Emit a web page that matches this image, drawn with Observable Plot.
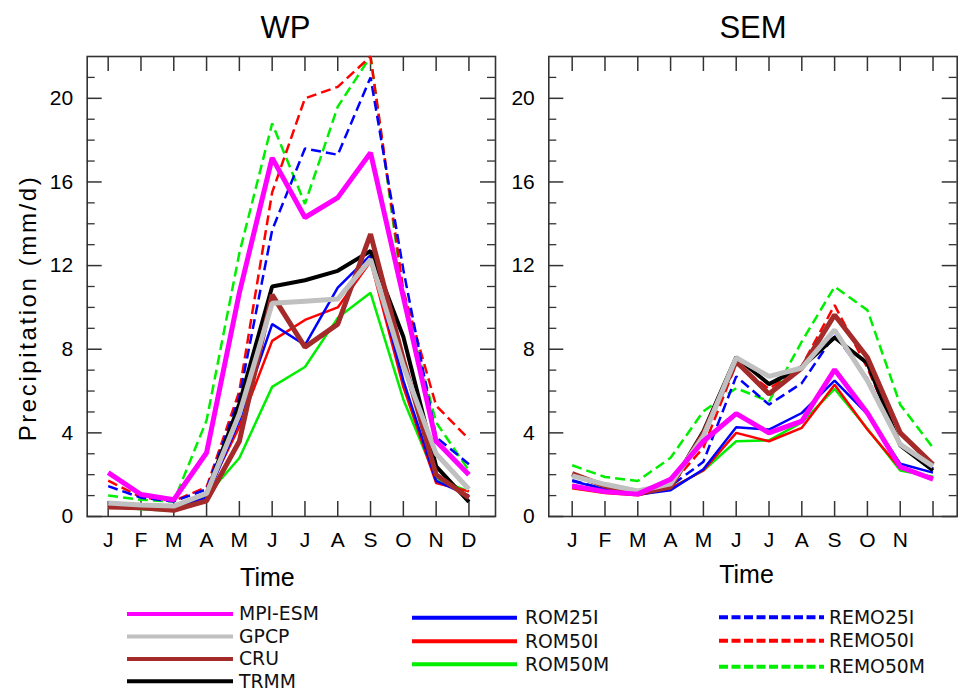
<!DOCTYPE html>
<html><head><meta charset="utf-8">
<script src="https://cdn.jsdelivr.net/npm/d3@7"></script>
<script src="https://cdn.jsdelivr.net/npm/@observablehq/plot@0.6"></script>
<style>
body{margin:0;background:#fff;}
#wrap{position:relative;width:966px;height:693px;overflow:hidden;background:#fff;font-family:"Liberation Sans",Arial,sans-serif;}
#wrap > svg{position:absolute;}
</style></head><body><div id="wrap"></div>
<script>
// ---------- data ----------
const months = [1,2,3,4,5,6,7,8,9,10,11,12];
const monthLabelsWP  = ["J","F","M","A","M","J","J","A","S","O","N","D"];
const monthLabelsSEM = ["J","F","M","A","M","J","J","A","S","O","N",""];
const yMajorTicks = [0,4,8,12,16,20];
const yMinorTicks = [1,2,3,5,6,7,9,10,11,13,14,15,17,18,19,21];

const seriesNames  = ["MPI-ESM","GPCP","CRU","TRMM","ROM25I","ROM50I","ROM50M","REMO25I","REMO50I","REMO50M"];
const seriesColors = ["#ff00ff","#c0c0c0","#a52a2a","#000000","#0000ff","#ff0000","#00ee00","#0000ff","#ff0000","#00ee00"];
const seriesDashed = [false,false,false,false,false,false,false,true,true,true];
const seriesWidths = [5,5,5,4,2.5,2.5,2.5,2.5,2.5,2.5];

// WP region (mm/d)
const wpMPI     = [2.1, 1.05, 0.8, 3.05, 10.7, 17.15, 14.3, 15.25, 17.4, 10.5, 3.6, 2.0];
const wpGPCP    = [0.65, 0.55, 0.5, 1.1, 4.9, 10.2, 10.3, 10.4, 12.3, 7.2, 3.0, 1.3];
const wpCRU     = [0.45, 0.42, 0.3, 0.75, 3.6, 10.6, 8.1, 9.2, 13.5, 7.5, 2.0, 0.9];
const wpTRMM    = [0.55, 0.5, 0.45, 1.1, 5.4, 11.0, 11.3, 11.75, 12.7, 8.6, 2.4, 0.7];
const wpROM25I  = [0.65, 0.5, 0.4, 0.9, 4.6, 9.2, 8.2, 10.95, 12.5, 6.5, 1.7, 1.0];
const wpROM50I  = [0.5, 0.45, 0.4, 1.1, 4.3, 8.4, 9.4, 10.0, 12.2, 6.2, 1.6, 1.2];
const wpROM50M  = [0.5, 0.35, 0.28, 1.0, 2.8, 6.2, 7.15, 9.5, 10.7, 5.6, 1.8, 1.2];
const wpREMO25I = [1.45, 0.9, 0.72, 1.3, 5.7, 13.7, 17.6, 17.3, 21.0, 11.8, 3.8, 2.5];
const wpREMO50I = [1.72, 0.92, 0.75, 1.4, 6.0, 15.5, 20.0, 20.55, 22.0, 10.8, 5.3, 3.7];
const wpREMO50M = [1.0, 0.8, 0.72, 4.6, 12.6, 18.8, 14.95, 19.6, 22.0, 10.5, 4.5, 2.2];

// SEM region (mm/d)
const semMPI     = [1.46, 1.19, 1.07, 1.78, 3.6, 4.92, 4.0, 4.56, 7.02, 4.95, 2.37, 1.78];
const semGPCP    = [1.94, 1.54, 1.22, 1.56, 3.84, 7.6, 6.7, 7.1, 8.92, 6.5, 3.45, 2.4];
const semCRU     = [2.05, 1.45, 1.1, 1.41, 3.98, 7.41, 5.86, 7.1, 9.64, 7.6, 4.0, 2.49];
const semTRMM    = [2.0, 1.5, 1.1, 1.45, 4.08, 7.62, 6.33, 7.15, 8.56, 7.33, 3.4, 2.2];
const semROM25I  = [1.7, 1.3, 1.05, 1.26, 2.26, 4.27, 4.16, 4.95, 6.5, 4.9, 2.52, 2.1];
const semROM50I  = [1.35, 1.12, 1.02, 1.35, 2.2, 4.0, 3.6, 4.24, 6.3, 4.16, 2.3, 1.85];
const semROM50M  = [1.4, 1.15, 1.05, 1.35, 2.2, 3.6, 3.64, 4.5, 6.1, 4.2, 2.2, 1.9];
const semREMO25I = [1.73, 1.3, 1.05, 1.45, 2.62, 6.7, 5.35, 6.38, 8.7, 6.6, 3.5, 2.3];
const semREMO50I = [1.5, 1.2, 1.05, 1.5, 3.29, 7.3, 6.1, 7.2, 10.11, 7.1, 3.5, 2.3];
const semREMO50M = [2.45, 1.89, 1.7, 2.81, 5.03, 6.14, 5.5, 8.37, 10.99, 9.87, 5.35, 3.29];

const wpSeries  = [wpMPI, wpGPCP, wpCRU, wpTRMM, wpROM25I, wpROM50I, wpROM50M, wpREMO25I, wpREMO50I, wpREMO50M];
const semSeries = [semMPI, semGPCP, semCRU, semTRMM, semROM25I, semROM50I, semROM50M, semREMO25I, semREMO50I, semREMO50M];

// drawing order (back to front)
const drawOrder = [9,8,7,6,5,4,3,2,1,0];

const wrap = document.getElementById("wrap");
const axisColor = "#333";

function panel(opts) {
  const {series, labels, title, left, width, mL, mR, xDomain, titleDx, timeDx, timeDy, yLabel} = opts;
  const height = 600, mT = 56, mB = 84;
  const fw = width - mL - mR, fh = height - mT - mB;
  const marks = [
    Plot.frame({stroke: axisColor, strokeWidth: 1.6}),
    // inward y ticks, left and right
    Plot.ruleY(yMajorTicks, {y: d => d, insetRight: fw - 15, stroke: axisColor, strokeWidth: 1.5}),
    Plot.ruleY(yMajorTicks, {y: d => d, insetLeft: fw - 15, stroke: axisColor, strokeWidth: 1.5}),
    Plot.ruleY(yMinorTicks, {y: d => d, insetRight: fw - 8, stroke: axisColor, strokeWidth: 1.3}),
    Plot.ruleY(yMinorTicks, {y: d => d, insetLeft: fw - 8, stroke: axisColor, strokeWidth: 1.3}),
    // inward x ticks, bottom and top
    Plot.ruleX(months, {x: d => d, insetTop: fh - 15, stroke: axisColor, strokeWidth: 1.5}),
    Plot.ruleX(months, {x: d => d, insetBottom: fh - 15, stroke: axisColor, strokeWidth: 1.5}),
    Plot.axisY({ticks: yMajorTicks, tickSize: 0, tickPadding: 14, fontSize: 21, label: null}),
    Plot.axisX({ticks: months, tickFormat: d => labels[d - 1], tickSize: 0, tickPadding: 16, fontSize: 21, label: null})
  ];
  for (const i of drawOrder) {
    const rows = months.map((m, k) => ({month: m, value: series[i][k]}));
    marks.push(Plot.line(rows, {
      x: "month", y: "value",
      stroke: seriesColors[i], strokeWidth: seriesWidths[i],
      strokeDasharray: seriesDashed[i] ? "10,5" : null,
      strokeLinejoin: "miter", strokeLinecap: "butt"
    }));
  }
  marks.push(Plot.text([title], {frameAnchor: "top", text: d => d, textAnchor: "middle", lineAnchor: "middle",
    dx: titleDx, dy: -28.5, fontSize: 31}));
  marks.push(Plot.text(["Time"], {frameAnchor: "bottom", text: d => d, textAnchor: "middle", lineAnchor: "middle",
    dx: timeDx, dy: timeDy, fontSize: 25}));
  if (yLabel) {
    marks.push(Plot.text([yLabel], {frameAnchor: "left", text: d => d, textAnchor: "middle", lineAnchor: "middle",
      rotate: -90, dx: 28 - mL, dy: 21.5, fontSize: 24}));
  }
  const svg = Plot.plot({
    width, height,
    marginLeft: mL, marginRight: mR, marginTop: mT, marginBottom: mB,
    x: {domain: xDomain},
    y: {domain: [0, 22]},
    style: {fontFamily: "'Liberation Sans', Arial, sans-serif", background: "transparent", color: "#000", overflow: "visible"},
    marks
  });
  svg.style.left = left + "px";
  svg.style.top = "0px";
  d3.select(svg).selectAll("text").filter(function() { return this.textContent === yLabel; })
    .attr("letter-spacing", "2.6px");
  wrap.appendChild(svg);
}

panel({series: wpSeries, labels: monthLabelsWP, title: "WP", left: 0, width: 500, mL: 86.7, mR: 5,
  xDomain: [0.36, 12.81], titleDx: -6, timeDx: -24, timeDy: 61.5, yLabel: "Precipitation (mm/d)"});
panel({series: semSeries, labels: monthLabelsSEM, title: "SEM", left: 500, width: 466, mL: 48.3, mR: 9.3,
  xDomain: [0.287, 12.737], titleDx: 0, timeDx: -6.5, timeDy: 58, yLabel: null});

// ---------- legend ----------
const legendCols = [
  {x1: 127, x2: 233, tx: 239, items: [0,1,2,3], ys: [614, 636.5, 659, 681.3]},
  {x1: 412, x2: 517, tx: 525, items: [4,5,6], ys: [617.7, 641.3, 664.3]},
  {x1: 719, x2: 824, tx: 829, items: [7,8,9], ys: [617.3, 640.7, 666.7]}
];
const leg = d3.create("svg").attr("width", 966).attr("height", 93)
  .style("left", "0px").style("top", "600px");
for (const col of legendCols) {
  col.items.forEach((idx, j) => {
    const y = col.ys[j] - 600;
    leg.append("line").attr("x1", col.x1).attr("x2", col.x2).attr("y1", y).attr("y2", y)
      .attr("stroke", seriesColors[idx]).attr("stroke-width", 4)
      .attr("stroke-dasharray", seriesDashed[idx] ? "9,3.5" : null)
      .attr("stroke-linecap", "butt");
    leg.append("text").attr("x", col.tx).attr("y", y).attr("dy", "0.34em")
      .attr("font-family", "'DejaVu Sans', Verdana, sans-serif").attr("font-size", 18.8)
      .attr("fill", "#111").text(seriesNames[idx]);
  });
}
wrap.appendChild(leg.node());
</script>
</body></html>
